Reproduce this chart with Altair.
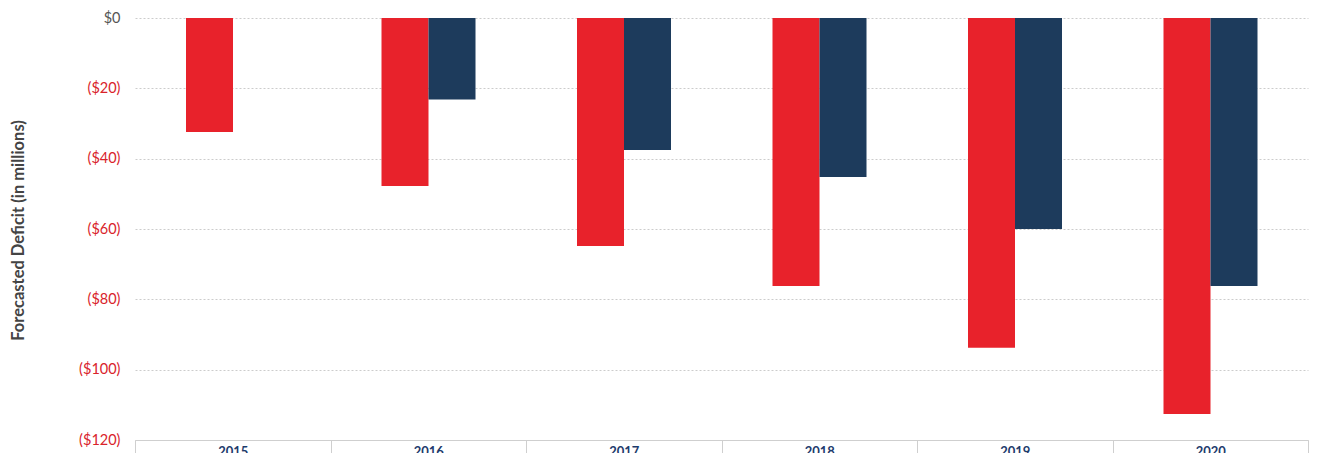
import altair as alt
import pandas as pd

years = ["2015", "2016", "2017", "2018", "2019", "2020"]
baseline = [-32.4, -47.8, -64.8, -76.2, -93.8, -112.6]
adjusted = [None, -23.2, -37.5, -45.2, -60.0, -76.2]
series_names = ["Baseline", "Adjusted"]
y_ticks = [0, -20, -40, -60, -80, -100, -120]

rows = []
for y, b, a in zip(years, baseline, adjusted):
    rows.append({"year": y, "series": series_names[0], "value": b})
    if a is not None:
        rows.append({"year": y, "series": series_names[1], "value": a})
df = pd.DataFrame(rows)

RED = "#e8222b"
NAVY = "#1d3b5c"

chart = alt.Chart(df).mark_bar(cornerRadius=0).encode(
    x=alt.X("year:N", sort=years,
            scale=alt.Scale(paddingInner=0, paddingOuter=0),
            axis=alt.Axis(title=None, orient="bottom", labelAngle=0,
                          labelFont="Lato", labelFontSize=13, labelFontWeight="bold",
                          labelColor="#1d3b6c", labelPadding=-11, labelBaseline="top",
                          domainColor="#cfcfcf", tickColor="#cfcfcf",
                          tickBand="extent", tickSize=16, grid=False)),
    xOffset=alt.XOffset("series:N", sort=series_names,
                        scale=alt.Scale(domain=series_names, range=[51, 145],
                                        paddingInner=0, paddingOuter=0)),
    y=alt.Y("value:Q",
            scale=alt.Scale(domain=[-120, 0], nice=False),
            axis=alt.Axis(values=y_ticks, title="Forecasted Deficit (in millions)",
                          labelExpr="datum.value == 0 ? '$0' : '($' + abs(datum.value) + ')'",
                          labelColor=alt.condition("datum.value == 0", alt.value("#555555"), alt.value("#d9232b")),
                          labelFont="Lato", labelFontSize=14.5, labelPadding=15,
                          ticks=False, domain=False,
                          gridColor="#cccccc", gridDash=[2, 2],
                          titleFont="Lato", titleFontSize=16.5, titleFontWeight="bold",
                          titleColor="#444444", titleX=-117, titleY=212,
                          titleAngle=270, titleBaseline="middle", titleAlign="center")),
    color=alt.Color("series:N", sort=series_names,
                    scale=alt.Scale(domain=series_names, range=[RED, NAVY]),
                    legend=None),
).properties(
    width=1173, height=422,
    background="white",
    autosize=alt.AutoSizeParams(type="none"),
    padding={"left": 135, "top": 18, "right": 10, "bottom": 15},
).configure_view(stroke="transparent")

chart.save("out.html", embed_options={"renderer": "svg", "actions": False})
